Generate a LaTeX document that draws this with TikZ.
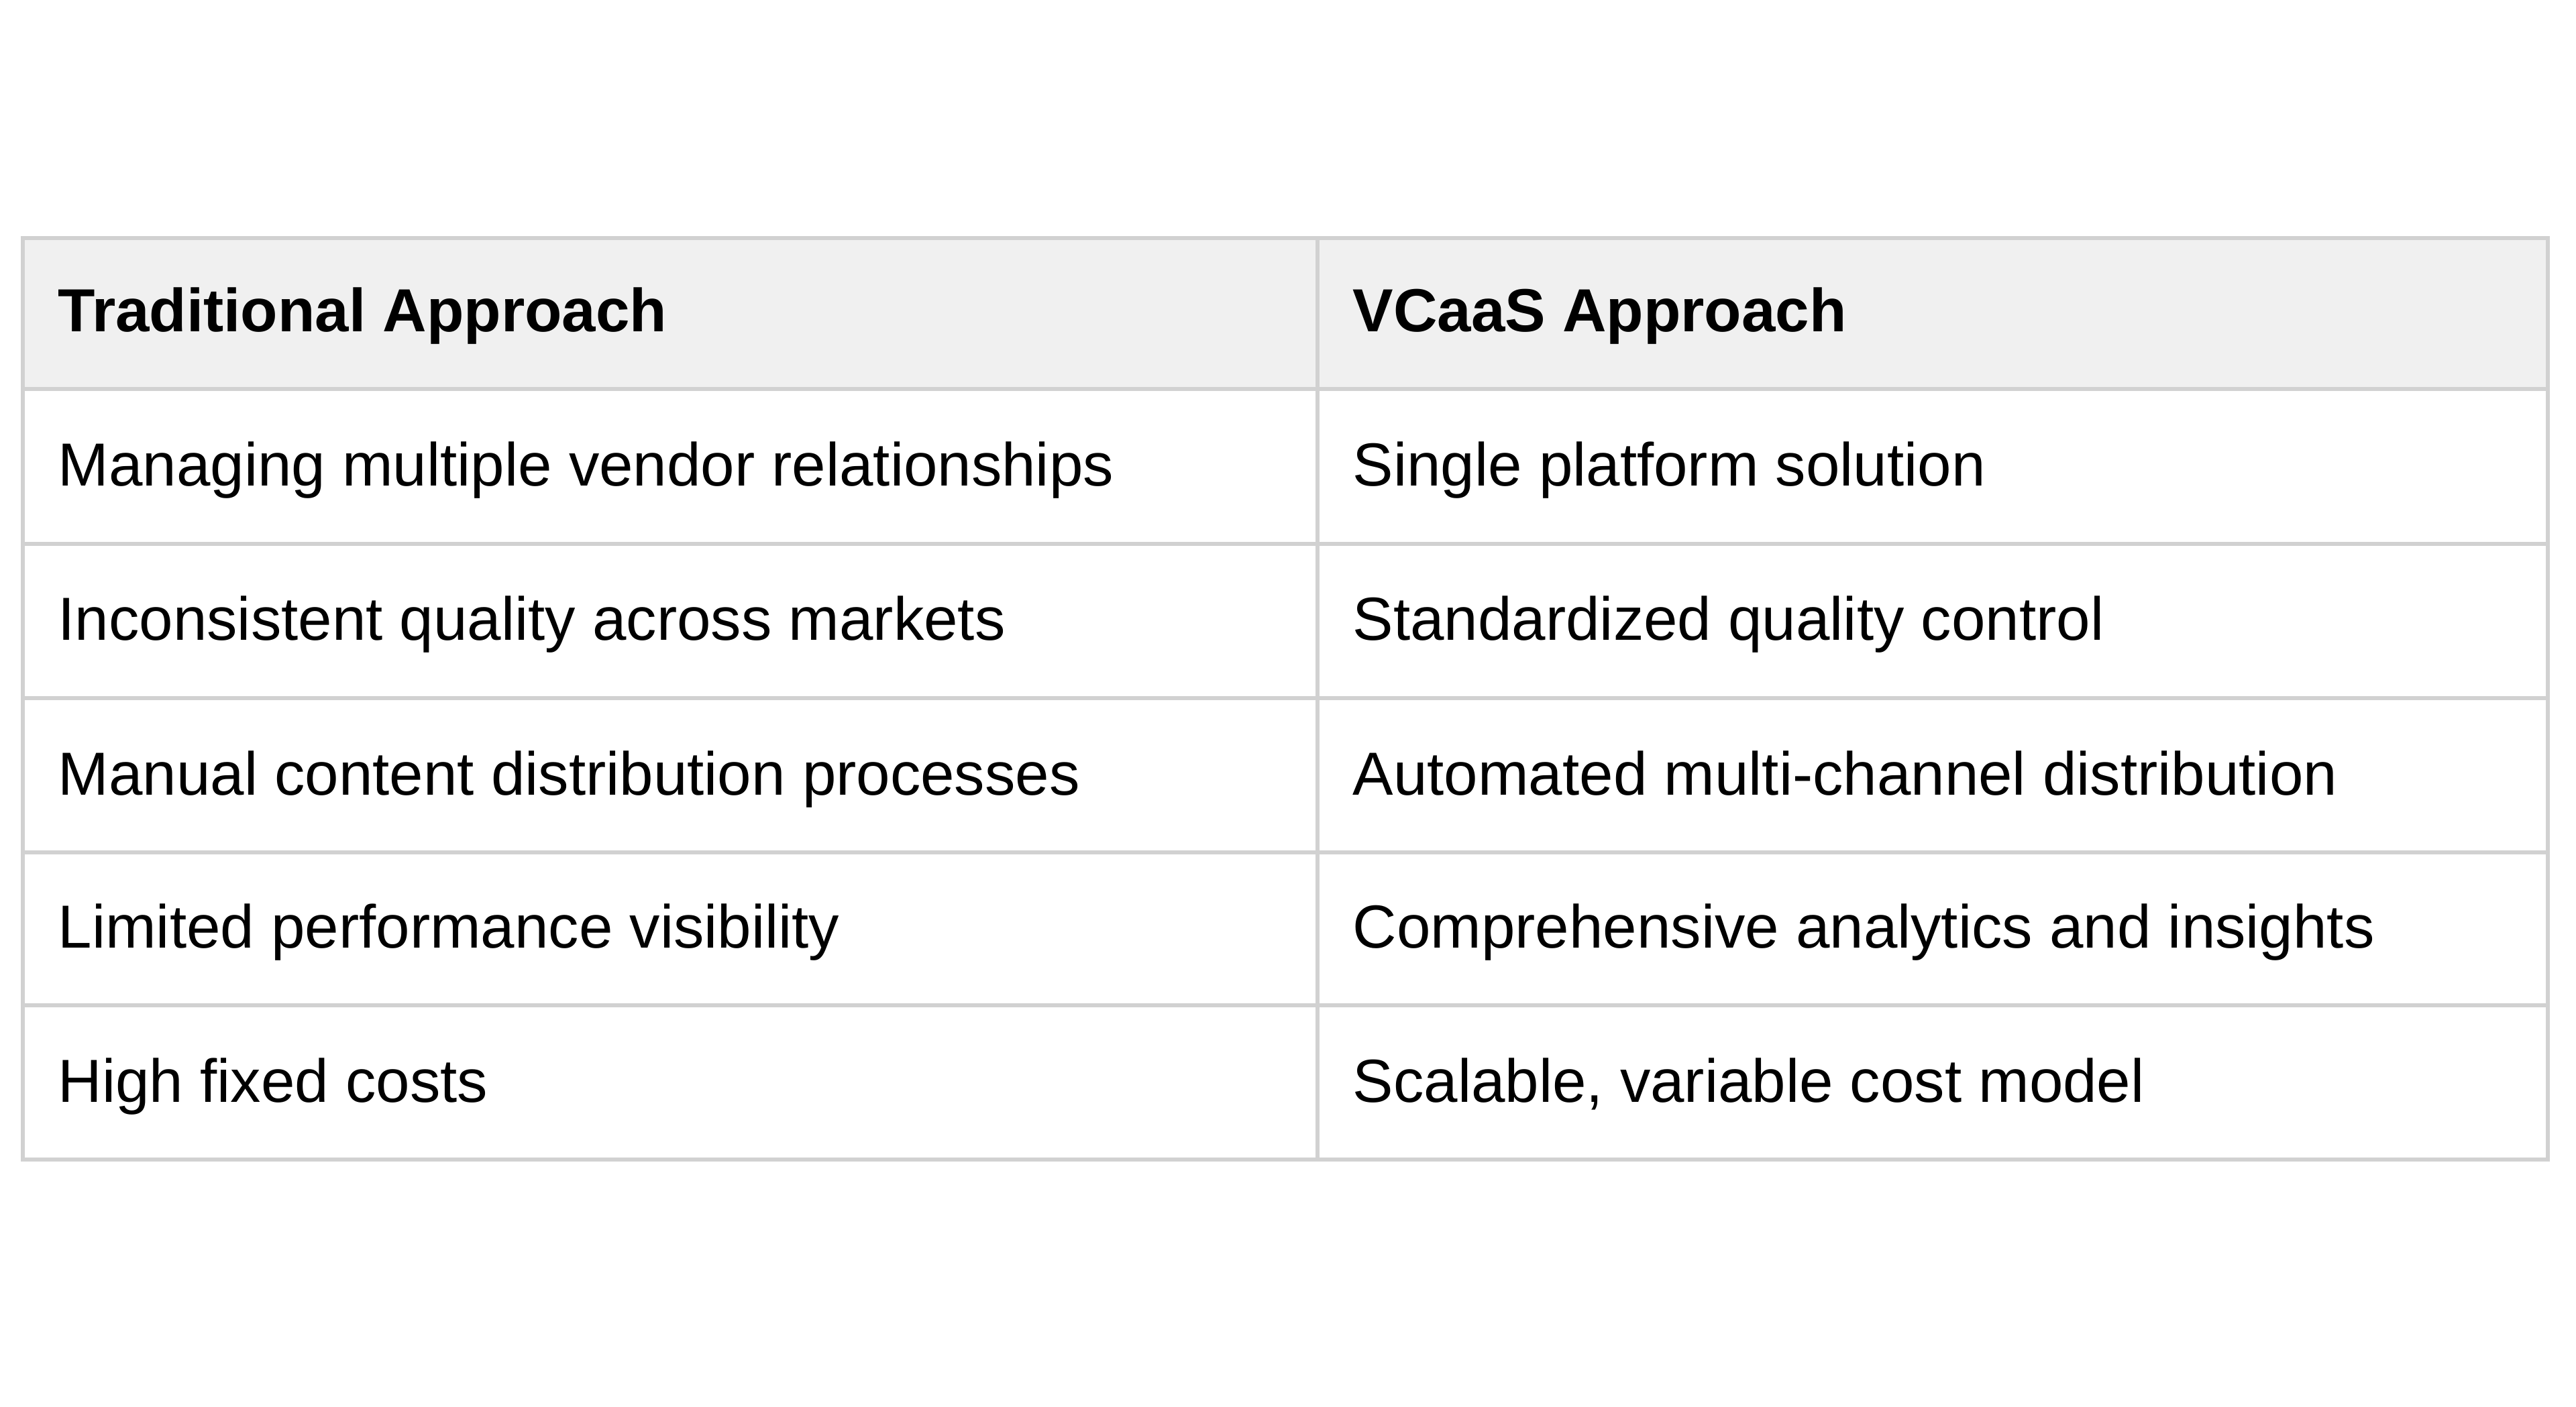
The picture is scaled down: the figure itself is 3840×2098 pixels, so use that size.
\documentclass[tikz,border=0pt]{standalone}
\usepackage{fontspec}
\setmainfont{Liberation Sans}
\begin{document}
\begin{tikzpicture}[x=0.01cm,y=-0.01cm,
  cell/.style={anchor=base west,inner sep=0pt,font=\fontsize{25.8}{30}\selectfont},
  head/.style={cell,font=\fontsize{25.8}{30}\selectfont\bfseries},
  grid/.style={draw=black!18,line width=1.8pt}]
\useasboundingbox (0,0) rectangle (3840,2098);
\fill[black!6] (34,355) rectangle (3798,580);
\foreach \y in {580,811,1041,1271,1499} \draw[grid] (34,\y) -- (3798,\y);
\draw[grid] (1964,355) -- (1964,1729);
\draw[grid] (34,355) rectangle (3798,1729);
\node[head] (h1) at (86,495) {Traditional Approach};
\node[head] (h2) at (2016,495) {VCaaS Approach};
\node[cell] (a1) at (86,725) {Managing multiple vendor relationships};
\node[cell] (b1) at (2016,725) {Single platform solution};
\node[cell] (a2) at (86,955) {Inconsistent quality across markets};
\node[cell] (b2) at (2016,955) {Standardized quality control};
\node[cell] (a3) at (86,1185) {Manual content distribution processes};
\node[cell] (b3) at (2016,1185) {Automated multi-channel distribution};
\node[cell] (a4) at (86,1413) {Limited performance visibility};
\node[cell] (b4) at (2016,1413) {Comprehensive analytics and insights};
\node[cell] (a5) at (86,1643) {High fixed costs};
\node[cell] (b5) at (2016,1643) {Scalable, variable cost model};
\end{tikzpicture}
\end{document}
